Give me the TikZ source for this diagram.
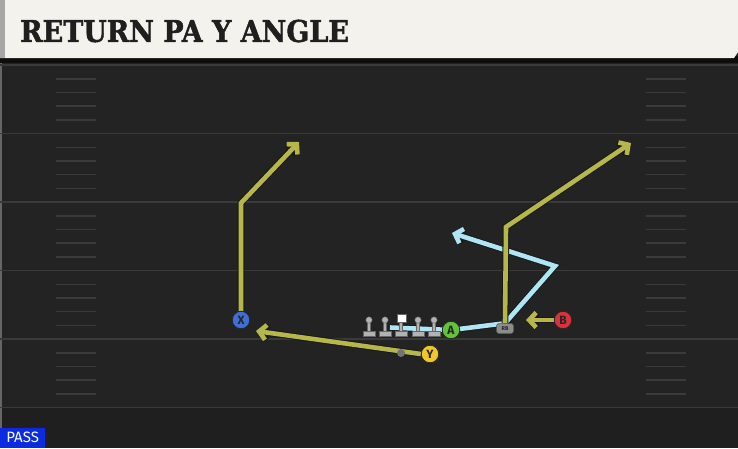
\documentclass[tikz,border=0pt]{standalone}
\usepackage{fontspec}
\usetikzlibrary{arrows.meta,positioning,calc}
\newfontfamily\titlefont{DejaVu Serif}[BoldFeatures={FakeBold=1.6}]
\newfontfamily\markfont{Fira Sans}
\definecolor{fieldbg}{HTML}{232323}
\definecolor{fieldline}{HTML}{3A3A3A}
\definecolor{titlebg}{HTML}{F4F2EC}
\definecolor{olive}{HTML}{B7B64A}
\definecolor{ice}{HTML}{AEE6F5}
\definecolor{xblue}{HTML}{3D6FD6}
\definecolor{ygold}{HTML}{F2C52B}
\definecolor{agreen}{HTML}{62C23A}
\definecolor{bred}{HTML}{D8323C}
\definecolor{passblue}{HTML}{0B2BE0}

\begin{document}
\begin{tikzpicture}[x=1pt,y=-1pt,
player/.style={circle,draw=black!85,line width=0.8pt,inner sep=0pt,minimum size=17.5pt,
	font=\markfont\bfseries\fontsize{12}{12}\selectfont,text=black!85},
backfield/.style={fill=black!45,draw=black!70,line width=0.5pt,rounded corners=2.5pt,minimum width=17pt,minimum height=10pt,
	inner sep=0pt,font=\markfont\bfseries\fontsize{5.5}{5.5}\selectfont,text=black!85},
route/.style={line width=4.6pt,line join=miter,-{Straight Barb[length=7pt,width=15pt]},
	preaction={draw=black!90,line width=6.6pt}},
lineman/.style={fill=black!30,draw=black!60,line width=0.4pt},
]
	\useasboundingbox (0,0) rectangle (738,448);
	% field
	\fill[fieldbg] (0,0) rectangle (738,448);
	\fill[fieldbg!88!black] (0,407) rectangle (738,448);
	\fill[black!60] (0,58) rectangle (2,448);
	\foreach \k in {0,...,5}{
		\draw[fieldline,line width=1.8pt] (0,65+68.5*\k) -- (738,65+68.5*\k);
	}
	\foreach \k in {0,...,4}{
		\foreach \d in {14,27.5,41,55}{
			\draw[fieldline,line width=1.3pt] (56,65+68.5*\k+\d) -- (96,65+68.5*\k+\d);
			\draw[fieldline,line width=1.3pt] (646,65+68.5*\k+\d) -- (686,65+68.5*\k+\d);
		}
	}
	% title bar
	\fill[black!95] (0,56) rectangle (738,63);
	\fill[titlebg] (0,0) -- (738,0) -- (738,52) -- (734,58) -- (0,58) -- cycle;
	\fill[black!35] (0,0) rectangle (5,58);
	\node[anchor=west,inner sep=0pt,text=black!88,font=\titlefont\bfseries\fontsize{30}{30}\selectfont] (title) at (20,31)
		{\scalebox{0.9}[1]{RETURN PA Y ANGLE}};

	% players
	\node[player,fill=xblue] (x) at (241,320) {X};
	\node[player,fill=ygold] (y) at (430,354) {Y};
	\node[player,fill=agreen] (a) at (451,330) {A};
	\node[player,fill=bred] (b) at (563,320) {B};
	\node[backfield] (rb) at (505,328.5) {RB};

	% route corners and tips
	\coordinate (xcut) at (241,203);
	\coordinate (xtip) at (299,142);
	\coordinate (ytip) at (256,331);
	\coordinate (rbcut) at (506,227);
	\coordinate (rbtip) at (631,143);
	\coordinate (btip) at (526,320);
	\coordinate (fake) at (390,327.5);
	\coordinate (icecut) at (555,266);
	\coordinate (icetip) at (452,233);

	% routes
	\draw[route,draw=ice] (fake) -- (a.center) -- (rb.north) -- (icecut) -- (icetip);
	\draw[route,draw=olive] (x.north) -- (xcut) -- (xtip);
	\draw[route,draw=olive] (y.west) -- (ytip);
	\draw[route,draw=olive] (rb.north) -- (rbcut) -- (rbtip);
	\draw[route,draw=olive] (b.west) -- (btip);

	% line
	\foreach \lx in {369,385,418,434}{
		\fill[lineman] (\lx-6,331) rectangle (\lx+6,336);
		\fill[lineman] (\lx-1.6,321) rectangle (\lx+1.6,331);
		\fill[lineman] (\lx,320) circle (3.2pt);
	}
	\fill[lineman] (401-6,331) rectangle (401+6,336);
	\fill[lineman] (401-1.6,321) rectangle (401+1.6,331);
	\fill[white,draw=black!60,line width=0.4pt] (397,314) rectangle (406,322);
	\node[circle,fill=black!55,minimum size=8pt,inner sep=0pt] (qb) at (401,353) {};

	% redraw players above routes
	\node[player,fill=xblue] at (x) {X};
	\node[player,fill=ygold] at (y) {Y};
	\node[player,fill=agreen] at (a) {A};
	\node[player,fill=bred] at (b) {B};
	\node[backfield] at (rb) {RB};

	% formation tag
	\node[anchor=south west,fill=passblue,text=white,inner sep=0pt,minimum width=45pt,minimum height=20pt,
		font=\markfont\fontsize{15}{15}\selectfont] (pass) at (0,448) {PASS};
\end{tikzpicture}
\end{document}
